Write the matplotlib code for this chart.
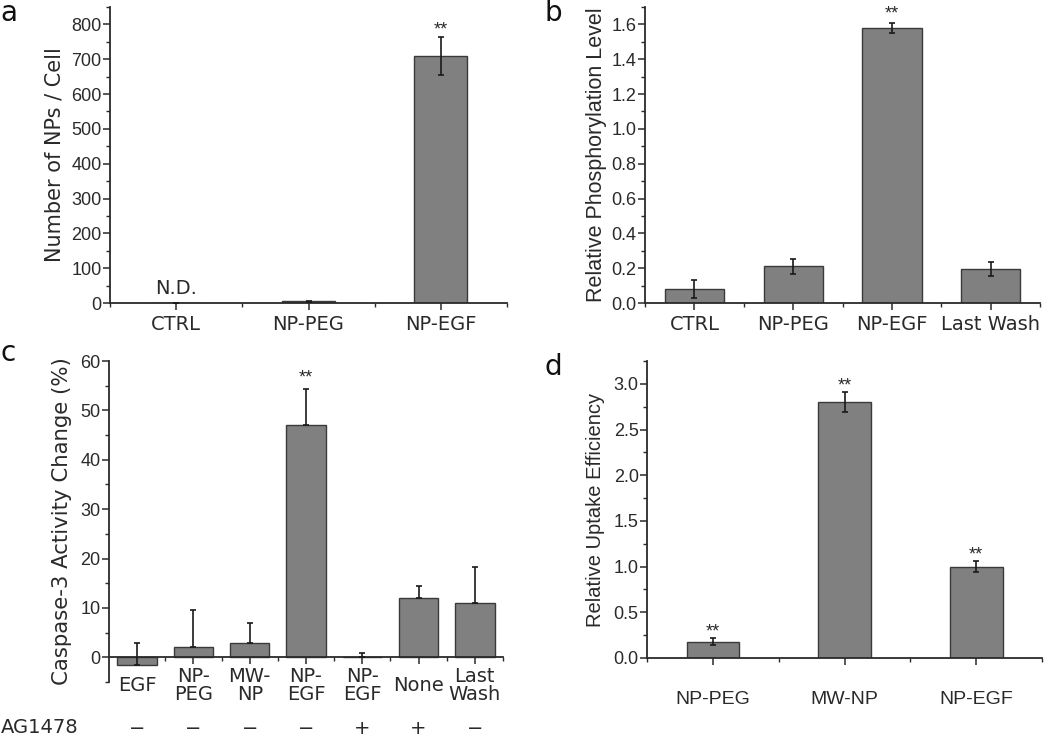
import matplotlib

matplotlib.use("Agg")
import matplotlib.pyplot as plt
from matplotlib.ticker import MultipleLocator, FixedLocator, FormatStrFormatter

# ---- data ----
a_labels = ["CTRL", "NP-PEG", "NP-EGF"]
a_values = [0, 5, 710]
a_errors = [0, 2, 55]

b_labels = ["CTRL", "NP-PEG", "NP-EGF", "Last Wash"]
b_values = [0.08, 0.21, 1.58, 0.195]
b_errors = [0.05, 0.042, 0.03, 0.04]

c_labels = ["EGF", "NP-\nPEG", "MW-\nNP", "NP-\nEGF", "NP-\nEGF", "None", "Last\nWash"]
c_values = [-1.5, 2.1, 2.9, 47.0, 0.0, 12.0, 11.0]
c_errors = [4.3, 7.5, 4.1, 7.3, 0.8, 2.5, 7.3]
c_ag1478 = ["\u2212", "\u2212", "\u2212", "\u2212", "+", "+", "\u2212"]

d_labels = ["NP-PEG", "MW-NP", "NP-EGF"]
d_values = [0.18, 2.80, 1.00]
d_errors = [0.04, 0.11, 0.06]

BAR = "#808080"
EDGE = "#3a3a3a"
TXT = "#2a2a2a"
NUMFONT = "Liberation Sans"
LBLFONT = "DejaVu Sans"
TICKSZ = 13
CATSZ = 14

fig = plt.figure(figsize=(10.5, 7.36), dpi=100)


def style(ax, ymajor, yminor):
    for s in ["top", "right"]:
        ax.spines[s].set_visible(False)
    for s in ["left", "bottom"]:
        ax.spines[s].set_linewidth(1.3)
        ax.spines[s].set_color(TXT)
    ax.yaxis.set_major_locator(MultipleLocator(ymajor))
    ax.yaxis.set_minor_locator(MultipleLocator(yminor))
    ax.tick_params(axis="both", which="major", direction="out", length=5, width=1.1, color=TXT)
    ax.tick_params(axis="both", which="minor", direction="out", length=3, width=1.0, color=TXT)
    ax.tick_params(axis="y", labelsize=TICKSZ, labelcolor=TXT, pad=1)
    for t in ax.get_yticklabels():
        t.set_family(NUMFONT)


def bars(ax, x, vals, errs, width, star_idx=(), star_off=0.0):
    ax.bar(x, vals, width, color=BAR, edgecolor=EDGE, linewidth=1.0, zorder=2)
    ax.errorbar(x, vals, yerr=errs, fmt="none", ecolor="#1a1a1a", elinewidth=1.2,
                capsize=2.5, capthick=1.2, zorder=3)
    for i in star_idx:
        ax.text(x[i], vals[i] + errs[i] + star_off, "**", ha="center", va="center",
                fontsize=13, color=TXT, family=NUMFONT)


# ---- panel a ----
ax = fig.add_axes([0.1048, 0.5883, 0.3781, 0.4022])
xa = [1, 2, 3]
bars(ax, xa, a_values, a_errors, 0.4, star_idx=[2], star_off=18)
ax.set_xlim(0.5, 3.5)
ax.set_ylim(0, 850)
style(ax, 100, 50)
ax.xaxis.set_major_locator(FixedLocator(xa))
ax.xaxis.set_minor_locator(FixedLocator([0.5, 1.5, 2.5, 3.5]))
ax.set_xticklabels(a_labels, fontsize=CATSZ, color=TXT, family=LBLFONT)
ax.text(1, 14, "N.D.", ha="center", va="bottom", fontsize=CATSZ, color=TXT, family=LBLFONT)
ax.set_ylabel("Number of NPs / Cell", fontsize=15, color=TXT, family=LBLFONT, labelpad=5)

# ---- panel b ----
ax = fig.add_axes([0.6143, 0.5883, 0.3762, 0.4022])
xb = [1, 2, 3, 4]
bars(ax, xb, b_values, b_errors, 0.6, star_idx=[2], star_off=0.05)
ax.set_xlim(0.5, 4.5)
ax.set_ylim(0, 1.7)
style(ax, 0.2, 0.1)
ax.yaxis.set_major_formatter(FormatStrFormatter("%.1f"))
ax.xaxis.set_major_locator(FixedLocator(xb))
ax.xaxis.set_minor_locator(FixedLocator([0.5, 1.5, 2.5, 3.5, 4.5]))
ax.set_xticklabels(b_labels, fontsize=CATSZ, color=TXT, family=LBLFONT)
ax.set_ylabel("Relative Phosphorylation Level", fontsize=15.5, color=TXT, family=NUMFONT, labelpad=3)

# ---- panel c ----
ax = fig.add_axes([0.1038, 0.0734, 0.3752, 0.4361])
xc = list(range(1, 8))
ax.bar(xc, c_values, 0.7, color=BAR, edgecolor=EDGE, linewidth=1.0, zorder=2)
ax.errorbar(xc, c_values, yerr=[[0] * len(c_errors), c_errors], fmt="none", ecolor="#1a1a1a",
            elinewidth=1.2, capsize=2.5, capthick=1.2, zorder=3)
ax.text(xc[3], c_values[3] + c_errors[3] + 2.2, "**", ha="center", va="center",
        fontsize=13, color=TXT, family=NUMFONT)
ax.set_xlim(0.5, 7.5)
ax.set_ylim(-5, 60)
style(ax, 10, 5)
ax.spines["bottom"].set_position(("data", 0))
ax.xaxis.set_major_locator(FixedLocator(xc))
ax.xaxis.set_minor_locator(FixedLocator([1.5, 2.5, 3.5, 4.5, 5.5, 6.5, 7.5]))
ax.set_xticklabels([])
for x, lab, sign in zip(xc, c_labels, c_ag1478):
    ax.text(x, -0.012, lab, transform=ax.get_xaxis_transform(), ha="center", va="center",
            fontsize=CATSZ, color=TXT, family=LBLFONT, linespacing=0.95)
    ax.text(x, -0.145, sign, transform=ax.get_xaxis_transform(), ha="center", va="center",
            fontsize=CATSZ, color=TXT, family=LBLFONT)
fig.text(0.001, 0.011, "AG1478", ha="left", va="center", fontsize=CATSZ, color=TXT, family=LBLFONT)
ax.set_ylabel("Caspase-3 Activity Change (%)", fontsize=15.3, color=TXT, family=LBLFONT, labelpad=6)

# ---- panel d ----
ax = fig.add_axes([0.6162, 0.1060, 0.3762, 0.4035])
xd = [1, 2, 3]
bars(ax, xd, d_values, d_errors, 0.4, star_idx=[0, 1, 2], star_off=0.07)
ax.set_xlim(0.5, 3.5)
ax.set_ylim(0, 3.25)
style(ax, 0.5, 0.25)
ax.yaxis.set_major_formatter(FormatStrFormatter("%.1f"))
ax.xaxis.set_major_locator(FixedLocator(xd))
ax.xaxis.set_minor_locator(FixedLocator([0.5, 1.5, 2.5, 3.5]))
ax.set_xticklabels(d_labels, fontsize=CATSZ, color=TXT, family=NUMFONT)
ax.tick_params(axis="x", which="major", pad=19)
ax.set_ylabel("Relative Uptake Efficiency", fontsize=14.5, color=TXT, family=NUMFONT, labelpad=6)

# ---- panel letters ----
for x, y, s in [(0.0, 0.972, "a"), (0.519, 0.972, "b"), (0.0, 0.51, "c"), (0.519, 0.49, "d")]:
    fig.text(x, y, s, ha="left", va="baseline", fontsize=20, color="#111111", family=LBLFONT)

fig.savefig("out.png", dpi=100, facecolor="white")
